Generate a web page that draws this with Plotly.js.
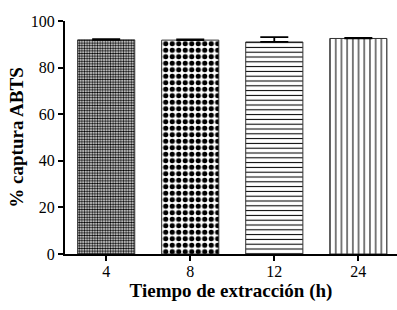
<!DOCTYPE html>
<html>
<head>
<meta charset="utf-8">
<script src="https://cdn.plot.ly/plotly-3.0.1.min.js"></script>
<style>html,body{margin:0;padding:0;background:#fff;}#chart{width:397px;height:310px;}</style>
</head>
<body>
<div id="chart"></div>
<script>
const categories = ['4', '8', '12', '24'];
const captura = [91.9, 91.8, 91.0, 92.5];
const errorUp = [0.3, 0.3, 2.1, 0.3];
const yTicks = [0, 20, 40, 60, 80, 100];

const patternShapes = ['.', '.', '-', '|'];
const patternSizes = [2.6, 6.5, 4.8, 5.7];
const patternSolidity = [0.55, 0.5, 0.22, 0.18];

const traces = categories.map((c, i) => ({
  type: 'bar',
  x: [c],
  y: [captura[i]],
  width: 0.68,
  marker: {
    color: '#ffffff',
    line: {color: '#333333', width: 1},
    pattern: {
      shape: patternShapes[i],
      size: patternSizes[i],
      solidity: patternSolidity[i],
      fgcolor: '#000000',
      bgcolor: '#ffffff',
      fillmode: 'replace'
    }
  },
  error_y: {
    type: 'data',
    symmetric: false,
    array: [errorUp[i]],
    arrayminus: [0],
    color: '#000000',
    thickness: 1.8,
    width: 14
  },
  showlegend: false,
  hoverinfo: 'none'
}));

const layout = {
  width: 397,
  height: 310,
  margin: {l: 65, r: 0, t: 21, b: 56},
  paper_bgcolor: '#ffffff',
  plot_bgcolor: '#ffffff',
  font: {family: 'Liberation Serif, serif', color: '#000000', size: 16},
  barmode: 'overlay',
  xaxis: {
    type: 'category',
    categoryorder: 'array',
    categoryarray: categories,
    range: [-0.49, 3.46],
    showline: true,
    linecolor: '#000000',
    linewidth: 2,
    ticks: 'outside',
    ticklen: 5,
    tickwidth: 2,
    tickcolor: '#000000',
    tickfont: {size: 16},
    ticklabelstandoff: -3,
    showgrid: false,
    zeroline: false,
    title: {text: '<b>Tiempo de extracción (h)</b>', font: {size: 19}, standoff: 4}
  },
  yaxis: {
    range: [0, 100],
    tickvals: yTicks,
    ticktext: yTicks.map(String),
    showline: true,
    linecolor: '#000000',
    linewidth: 2,
    ticks: 'outside',
    ticklen: 5,
    tickwidth: 2,
    tickcolor: '#000000',
    tickfont: {size: 16},
    showgrid: false,
    zeroline: false,
    title: {text: '<b>% captura ABTS</b>', font: {size: 19}, standoff: 2}
  }
};

Plotly.newPlot('chart', traces, layout, {staticPlot: true});
</script>
</body>
</html>
